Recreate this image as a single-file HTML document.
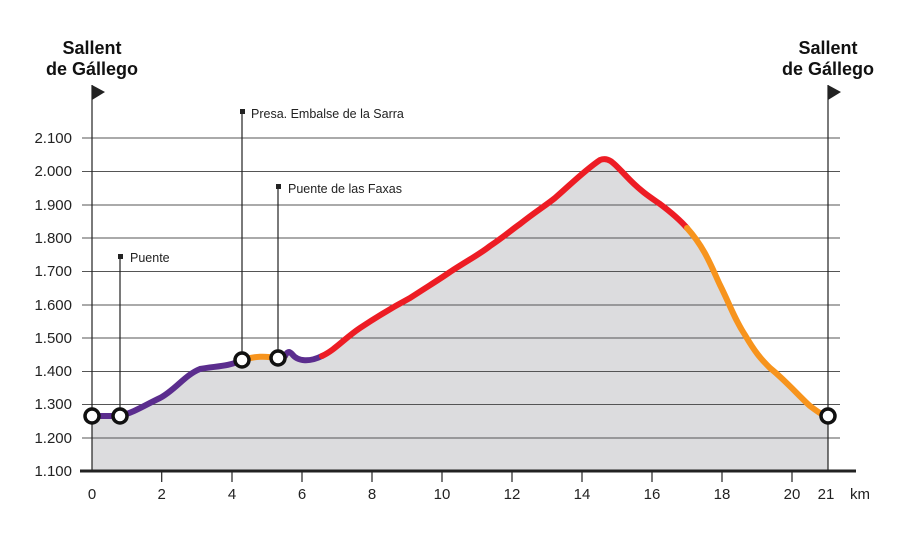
<!DOCTYPE html>
<html><head><meta charset="utf-8"><style>body{margin:0;background:#fff}svg{display:block}</style></head><body>
<svg width="911" height="560" xmlns="http://www.w3.org/2000/svg" font-family="Liberation Sans, sans-serif">
<rect width="911" height="560" fill="#fff"/>
<path d="M92,416 L120,416 C135,412 145,405 160,398 C175,390 185,375 200,369 C215,366 228,367 242,360 C255,356 265,356 278,358 C284,355 288,350 292,354 C298,362 310,362 322,356 C335,350 345,338 360,328 C375,318 395,306 410,298 C430,285 440,279 450,272 C470,259 480,254 490,246 C505,236 510,231 520,224 C535,212 545,206 555,198 C570,185 585,170 600,160 C610,156 615,165 630,180 C642,192 650,197 660,204 C672,213 680,220 687,228 C705,248 712,268 720,285 C730,305 735,320 745,335 C755,352 760,358 770,368 C785,380 800,397 810,406 C818,412 822,415 828,416 L828,471 L92,471 Z" fill="#dcdcde"/>
<g stroke="#555" stroke-width="1">
<line x1="82" y1="138" x2="840" y2="138"/><line x1="82" y1="171.5" x2="840" y2="171.5"/><line x1="82" y1="205" x2="840" y2="205"/><line x1="82" y1="238" x2="840" y2="238"/><line x1="82" y1="271.5" x2="840" y2="271.5"/><line x1="82" y1="305" x2="840" y2="305"/><line x1="82" y1="338" x2="840" y2="338"/><line x1="82" y1="371.5" x2="840" y2="371.5"/><line x1="82" y1="404.5" x2="840" y2="404.5"/><line x1="82" y1="438" x2="840" y2="438"/>
</g>
<line x1="80" y1="471" x2="856" y2="471" stroke="#222" stroke-width="3"/>
<g stroke="#222" stroke-width="1.2">
<line x1="161.7" y1="471" x2="161.7" y2="482"/><line x1="232" y1="471" x2="232" y2="482"/><line x1="302" y1="471" x2="302" y2="482"/><line x1="372" y1="471" x2="372" y2="482"/><line x1="442" y1="471" x2="442" y2="482"/><line x1="512" y1="471" x2="512" y2="482"/><line x1="582" y1="471" x2="582" y2="482"/><line x1="652" y1="471" x2="652" y2="482"/><line x1="722" y1="471" x2="722" y2="482"/><line x1="792" y1="471" x2="792" y2="482"/>
<line x1="92" y1="85" x2="92" y2="471"/><line x1="828" y1="85" x2="828" y2="471"/>
<line x1="120" y1="257" x2="120" y2="416"/><line x1="242" y1="112" x2="242" y2="360"/><line x1="278" y1="187" x2="278" y2="358"/>
</g>
<polygon points="92,85 105,92 92,100" fill="#222"/><polygon points="828,85 841,92 828,100" fill="#222"/>
<rect x="118" y="254" width="5" height="5" fill="#222"/><rect x="240" y="109" width="5" height="5" fill="#222"/><rect x="276" y="184" width="5" height="5" fill="#222"/>
<g fill="none" stroke-width="6" stroke-linecap="round">
<path d="M92,416 L120,416 C135,412 145,405 160,398 C175,390 185,375 200,369 C215,366 228,367 242,360" stroke="#5b2d8e"/>
<path d="M242,360 C255,356 265,356 278,358 L285,356" stroke="#f7941d"/>
<path d="M285,356 C288,350 290,352 292,354 C298,362 310,362 322,356" stroke="#5b2d8e"/>
<path d="M322,356 C335,350 345,338 360,328 C375,318 395,306 410,298 C430,285 440,279 450,272 C470,259 480,254 490,246 C505,236 510,231 520,224 C535,212 545,206 555,198 C570,185 585,170 600,160 C610,156 615,165 630,180 C642,192 650,197 660,204 C672,213 680,220 687,228" stroke="#ed1c24"/>
<path d="M687,228 C705,248 712,268 720,285 C730,305 735,320 745,335 C755,352 760,358 770,368 C785,380 800,397 810,406 C818,412 822,415 828,416" stroke="#f7941d"/>
</g>
<g fill="#fff" stroke="#111" stroke-width="3.5">
<circle cx="92" cy="416" r="7"/><circle cx="120" cy="416" r="7"/><circle cx="242" cy="360" r="7"/><circle cx="278" cy="358" r="7"/><circle cx="828" cy="416" r="7"/>
</g>
<g font-size="15" fill="#222" text-anchor="end">
<text x="72" y="143">2.100</text><text x="72" y="176">2.000</text><text x="72" y="210">1.900</text><text x="72" y="243">1.800</text><text x="72" y="276">1.700</text><text x="72" y="310">1.600</text><text x="72" y="343">1.500</text><text x="72" y="376">1.400</text><text x="72" y="409">1.300</text><text x="72" y="443">1.200</text><text x="72" y="476">1.100</text>
</g>
<g font-size="15" fill="#222" text-anchor="middle">
<text x="92" y="499">0</text><text x="161.7" y="499">2</text><text x="232" y="499">4</text><text x="302" y="499">6</text><text x="372" y="499">8</text><text x="442" y="499">10</text><text x="512" y="499">12</text><text x="582" y="499">14</text><text x="652" y="499">16</text><text x="722" y="499">18</text><text x="792" y="499">20</text><text x="826" y="499">21</text><text x="860" y="499">km</text>
</g>
<g font-size="12.5" fill="#222">
<text x="130" y="262">Puente</text><text x="251" y="118">Presa. Embalse de la Sarra</text><text x="288" y="193">Puente de las Faxas</text>
</g>
<g font-size="18" font-weight="bold" fill="#111" text-anchor="middle">
<text x="92" y="54">Sallent</text><text x="92" y="75">de Gállego</text>
<text x="828" y="54">Sallent</text><text x="828" y="75">de Gállego</text>
</g>
</svg>
</body></html>
